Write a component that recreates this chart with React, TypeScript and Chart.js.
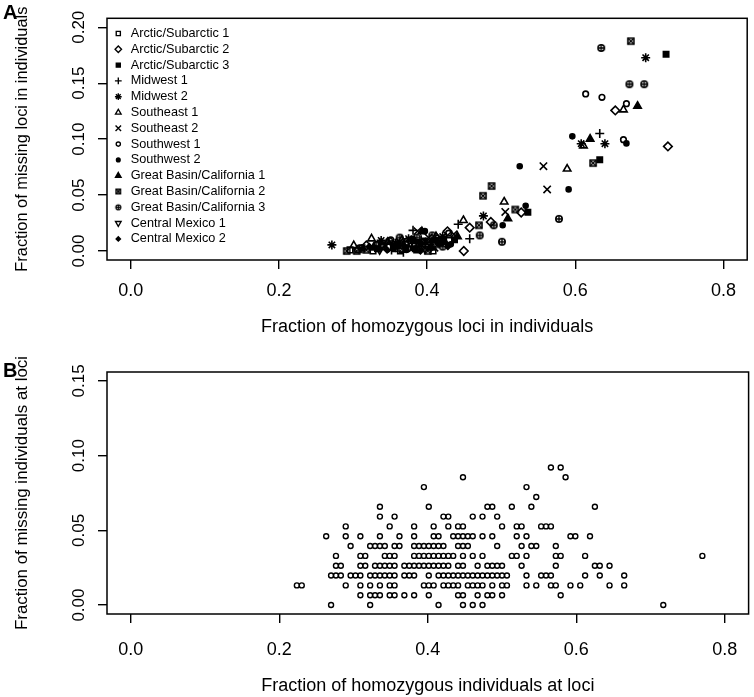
import React, { useEffect, useRef } from "react";
import { Chart, registerables } from "chart.js";
import { drawPoint } from "chart.js/helpers";

Chart.register(...registerables);

// ---------------- Axis ticks / labels ----------------
const X_TICKS = [0, 0.2, 0.4, 0.6, 0.8];
const X_TICK_LABELS = ["0.0", "0.2", "0.4", "0.6", "0.8"];
const A_Y_TICKS = [0, 0.05, 0.1, 0.15, 0.2];
const A_Y_TICK_LABELS = ["0.00", "0.05", "0.10", "0.15", "0.20"];
const B_Y_TICKS = [0, 0.05, 0.1, 0.15];
const B_Y_TICK_LABELS = ["0.00", "0.05", "0.10", "0.15"];

const A_X_TITLE = "Fraction of homozygous loci in individuals";
const A_Y_TITLE = "Fraction of missing loci in individuals";
const B_X_TITLE = "Fraction of homozygous individuals at loci";
const B_Y_TITLE = "Fraction of missing individuals at loci";

// ---------------- Panel A data: [homozygous fraction, missing fraction] ----------------
const groupNames = [
  "Arctic/Subarctic 1",
  "Arctic/Subarctic 2",
  "Arctic/Subarctic 3",
  "Midwest 1",
  "Midwest 2",
  "Southeast 1",
  "Southeast 2",
  "Southwest 1",
  "Southwest 2",
  "Great Basin/California 1",
  "Great Basin/California 2",
  "Great Basin/California 3",
  "Central Mexico 1",
  "Central Mexico 2",
];

const arctic1: [number, number][] = [
  [0.296, 0.001], [0.312, 0.003], [0.327, 0.0], [0.341, 0.004], [0.356, 0.002],
  [0.371, 0.006], [0.386, 0.001], [0.408, 0.0], [0.396, 0.009], [0.364, 0.0],
];
const arctic2: [number, number][] = [
  [0.725, 0.0935], [0.654, 0.1257], [0.527, 0.0344], [0.486, 0.026], [0.4575, 0.0209],
  [0.4275, 0.0176], [0.4495, 0.0], [0.318, 0.005], [0.348, 0.003], [0.372, 0.008],
  [0.393, 0.004], [0.414, 0.011],
];
const arctic3: [number, number][] = [
  [0.7225, 0.1758], [0.633, 0.0815], [0.536, 0.0347], [0.333, 0.002], [0.361, 0.005],
  [0.384, 0.002], [0.418, 0.007], [0.437, 0.01],
];
const midwest1: [number, number][] = [
  [0.633, 0.105], [0.442, 0.0239], [0.4575, 0.011], [0.381, 0.0185], [0.352, 0.001],
  [0.368, -0.001], [0.379, 0.004], [0.404, 0.006], [0.426, 0.012], [0.392, 0.01],
];
const midwest2: [number, number][] = [
  [0.695, 0.1728], [0.608, 0.0959], [0.64, 0.0959], [0.476, 0.0314], [0.2715, 0.0055],
  [0.338, 0.0095], [0.357, 0.007], [0.375, 0.011], [0.398, 0.008], [0.421, 0.013],
  [0.312, 0.002],
];
const southeast1: [number, number][] = [
  [0.665, 0.1263], [0.611, 0.0941], [0.589, 0.0734], [0.504, 0.044], [0.449, 0.0275],
  [0.301, 0.005], [0.325, 0.011], [0.347, 0.008], [0.366, 0.01], [0.389, 0.006],
  [0.412, 0.013],
];
const southeast2: [number, number][] = [
  [0.557, 0.0758], [0.562, 0.0551], [0.5055, 0.035], [0.387, 0.0178], [0.343, 0.005],
  [0.363, 0.008], [0.402, 0.012], [0.41, 0.003], [0.436, 0.015],
];
const southwest1: [number, number][] = [
  [0.614, 0.1404], [0.636, 0.1374], [0.669, 0.1317], [0.665, 0.0995], [0.306, 0.001],
  [0.332, 0.006], [0.351, 0.01], [0.374, 0.002], [0.398, 0.005], [0.429, 0.016],
];
const southwest2: [number, number][] = [
  [0.596, 0.1025], [0.669, 0.0962], [0.525, 0.0758], [0.591, 0.0551], [0.533, 0.0404],
  [0.502, 0.023], [0.397, 0.0178], [0.354, 0.003], [0.38, 0.011], [0.372, 0.001],
  [0.391, 0.007], [0.413, 0.009], [0.432, 0.006],
];
const greatBasin1: [number, number][] = [
  [0.684, 0.1296], [0.62, 0.1002], [0.509, 0.029], [0.328, 0.003], [0.359, 0.005],
  [0.383, 0.009], [0.405, 0.003], [0.424, 0.008], [0.441, 0.013], [0.393, 0.0175],
];
const greatBasin2: [number, number][] = [
  [0.675, 0.1876], [0.624, 0.0786], [0.487, 0.0581], [0.4755, 0.0494], [0.519, 0.0371],
  [0.47, 0.023], [0.2915, 0.0], [0.401, 0.0], [0.318, 0.001], [0.339, 0.006],
  [0.366, 0.002], [0.388, 0.003], [0.412, 0.006], [0.305, 0.0],
];
const greatBasin3: [number, number][] = [
  [0.635, 0.1815], [0.673, 0.1491], [0.693, 0.1491], [0.49, 0.023], [0.471, 0.014],
  [0.501, 0.0083], [0.578, 0.0287], [0.363, 0.012], [0.331, 0.005], [0.349, 0.009],
  [0.386, 0.012], [0.407, 0.014], [0.421, 0.004],
];
const centralMexico1: [number, number][] = [
  [0.31, 0.003], [0.336, 0.001], [0.357, 0.004], [0.378, 0.007], [0.397, 0.002], [0.417, 0.01],
];
const centralMexico2: [number, number][] = [
  [0.322, 0.004], [0.346, 0.001], [0.369, 0.005], [0.391, 0.0], [0.406, 0.009], [0.428, 0.004],
];

const groupPoints = [
  arctic1, arctic2, arctic3, midwest1, midwest2, southeast1, southeast2,
  southwest1, southwest2, greatBasin1, greatBasin2, greatBasin3, centralMexico1, centralMexico2,
];

// ---------------- Panel B data: counts out of 152 individuals ----------------
const N_INDIVIDUALS = 152;
// index = number of individuals missing at the locus; values = number of homozygous individuals
const homozygousCountsByMissing: number[][] = [
  [41, 49, 63, 68, 70, 72, 109],
  [47, 49, 50, 51, 53, 54, 56, 58, 61, 67, 68, 71, 73, 74, 76, 88],
  [34, 35, 44, 47, 49, 51, 53, 54, 60, 61, 62, 64, 65, 66, 67, 69, 70, 71, 72, 74, 76, 77, 81, 83, 86, 87, 90, 92, 98, 101],
  [41, 42, 43, 45, 46, 47, 49, 50, 51, 52, 53, 54, 56, 57, 58, 61, 63, 64, 65, 66, 67, 68, 69, 70, 71, 72, 73, 74, 75, 76, 77, 81, 84, 85, 86, 93, 96, 101],
  [42, 43, 47, 48, 50, 51, 52, 53, 54, 56, 57, 58, 59, 60, 61, 62, 63, 64, 65, 67, 68, 71, 73, 74, 75, 76, 80, 87, 95, 96, 98],
  [42, 47, 48, 52, 53, 54, 58, 59, 60, 61, 62, 63, 64, 65, 66, 68, 70, 72, 78, 79, 81, 87, 88, 93, 117],
  [45, 49, 50, 51, 52, 54, 55, 58, 59, 60, 61, 62, 63, 64, 67, 68, 69, 75, 80, 82, 83, 87],
  [40, 44, 47, 51, 55, 58, 62, 63, 66, 67, 68, 69, 70, 72, 74, 79, 81, 90, 91, 94],
  [44, 53, 58, 62, 65, 67, 68, 76, 79, 80, 84, 85, 86],
  [51, 54, 64, 65, 70, 72, 75],
  [51, 61, 73, 74, 78, 82, 95],
  [83],
  [60, 81],
  [68, 89],
  [86, 88],
];

// ---------------- Styles ----------------
const FONT = '"Liberation Sans", Arial, Helvetica, sans-serif';
const BLACK = "#000";

type MarkerDef = { style: string; radius: number; filled: boolean; rotation?: number };
const markerDefs: MarkerDef[] = [
  { style: "rect", radius: 3.9, filled: false },
  { style: "rectRot", radius: 4.3, filled: false },
  { style: "rect", radius: 3.8, filled: true },
  { style: "cross", radius: 4.5, filled: false },
  { style: "star", radius: 4.5, filled: false },
  { style: "triangle", radius: 4.3, filled: false },
  { style: "crossRot", radius: 5.2, filled: false },
  { style: "circle", radius: 2.8, filled: false },
  { style: "circle", radius: 2.5, filled: true },
  { style: "triangle", radius: 4.3, filled: true },
  { style: "boxX", radius: 3.0, filled: false },
  { style: "circlePlus", radius: 3.2, filled: false },
  { style: "triangle", radius: 4.3, filled: false, rotation: 180 },
  { style: "rectRot", radius: 2.9, filled: true },
];
const LINE_W = 1.6;
const LEGEND_SCALE = 0.75;

function makeSymbolCanvas(kind: string, r: number, lw: number): HTMLCanvasElement {
  const size = Math.ceil(2 * r + lw + 2);
  const c = document.createElement("canvas");
  c.width = size;
  c.height = size;
  const ctx = c.getContext("2d")!;
  const m = size / 2;
  ctx.strokeStyle = BLACK;
  ctx.lineWidth = lw;
  ctx.beginPath();
  if (kind === "boxX") {
    ctx.rect(m - r, m - r, 2 * r, 2 * r);
    ctx.stroke();
    ctx.beginPath();
    ctx.lineWidth = lw * 0.85;
    ctx.moveTo(m - r, m - r);
    ctx.lineTo(m + r, m + r);
    ctx.moveTo(m + r, m - r);
    ctx.lineTo(m - r, m + r);
  } else {
    ctx.arc(m, m, r, 0, Math.PI * 2);
    ctx.stroke();
    ctx.beginPath();
    ctx.lineWidth = lw * 0.85;
    ctx.moveTo(m - r, m);
    ctx.lineTo(m + r, m);
    ctx.moveTo(m, m - r);
    ctx.lineTo(m, m + r);
  }
  ctx.stroke();
  return c;
}

function resolveStyle(def: MarkerDef, scale: number): any {
  if (def.style === "boxX" || def.style === "circlePlus") {
    return makeSymbolCanvas(def.style, def.radius * scale, LINE_W * (scale < 1 ? 0.85 : 1));
  }
  return def.style;
}

// ---------------- Shared scale builders ----------------
function xScale(height: number, labelPad: number, title: string, titlePadBottom: number) {
  return {
    type: "linear",
    position: "bottom",
    min: -0.032,
    max: 0.832,
    afterBuildTicks: (s: any) => {
      s.ticks = X_TICKS.map((v) => ({ value: v }));
    },
    afterFit: (s: any) => {
      s.height = height;
      s.paddingLeft = 0;
      s.paddingRight = 0;
    },
    grid: { drawOnChartArea: false, drawTicks: true, tickLength: 9, color: BLACK, lineWidth: 1.4 },
    border: { display: false },
    ticks: {
      color: BLACK,
      font: { family: FONT, size: 18 },
      padding: labelPad,
      autoSkip: false,
      maxRotation: 0,
      minRotation: 0,
      callback: (_v: any, i: number) => X_TICK_LABELS[i],
    },
    title: {
      display: true,
      text: title,
      color: BLACK,
      font: { family: FONT, size: 18 },
      padding: { top: 0, bottom: titlePadBottom },
    },
  };
}

function yScale(min: number, max: number, ticks: number[], title: string, titleSize: number) {
  return {
    type: "linear",
    position: "left",
    min,
    max,
    afterBuildTicks: (s: any) => {
      s.ticks = ticks.map((v) => ({ value: v }));
    },
    afterFit: (s: any) => {
      s.width = 107;
      s.paddingTop = 0;
      s.paddingBottom = 0;
    },
    grid: { drawOnChartArea: false, drawTicks: true, tickLength: 9, color: BLACK, lineWidth: 1.4 },
    border: { display: false },
    ticks: { display: false },
    title: {
      display: true,
      text: title,
      color: BLACK,
      font: { family: FONT, size: titleSize },
      padding: { top: 22 - titleSize * 0.6, bottom: 0 },
    },
  };
}

function framePlugin(letter: string, letterBaseline: number, yLabels: string[]) {
  return {
    id: "rFrame" + letter,
    afterDraw(chart: any) {
      const { ctx, chartArea } = chart;
      ctx.save();
      ctx.strokeStyle = BLACK;
      ctx.lineWidth = 1.5;
      ctx.strokeRect(chartArea.left, chartArea.top, chartArea.right - chartArea.left, chartArea.bottom - chartArea.top);
      // rotated y tick labels (R style, parallel to axis)
      const ys = chart.scales.y;
      ctx.fillStyle = BLACK;
      ctx.font = `17px ${FONT}`;
      ctx.textAlign = "center";
      ctx.textBaseline = "middle";
      ys.ticks.forEach((t: any, i: number) => {
        const py = ys.getPixelForValue(t.value);
        ctx.save();
        ctx.translate(79, py);
        ctx.rotate(-Math.PI / 2);
        ctx.fillText(yLabels[i], 0, 0);
        ctx.restore();
      });
      // panel letter
      ctx.font = `bold 20px ${FONT}`;
      ctx.textAlign = "left";
      ctx.textBaseline = "alphabetic";
      ctx.fillText(letter, 3, letterBaseline);
      ctx.restore();
    },
  };
}

function legendPlugin(legendStyles: any[]) {
  return {
    id: "rLegend",
    afterDraw(chart: any) {
      const { ctx, chartArea } = chart;
      ctx.save();
      ctx.font = `12.7px ${FONT}`;
      ctx.textAlign = "left";
      ctx.textBaseline = "middle";
      groupNames.forEach((name, i) => {
        const cy = chartArea.top + 15.2 + i * 15.8;
        const def = markerDefs[i];
        ctx.strokeStyle = BLACK;
        ctx.fillStyle = def.filled ? BLACK : "rgba(0,0,0,0)";
        ctx.lineWidth = LINE_W * 0.85;
        drawPoint(
          ctx,
          {
            pointStyle: legendStyles[i],
            radius: def.radius * LEGEND_SCALE,
            rotation: def.rotation || 0,
            borderWidth: LINE_W * 0.85,
          } as any,
          chartArea.left + 11.3,
          cy
        );
        ctx.fillStyle = BLACK;
        ctx.fillText(name, chartArea.left + 23.7, cy);
      });
      ctx.restore();
    },
  };
}

export default function App() {
  const refA = useRef<HTMLCanvasElement>(null);
  const refB = useRef<HTMLCanvasElement>(null);

  useEffect(() => {
    const plotStyles = markerDefs.map((d) => resolveStyle(d, 1));
    const legendStyles = markerDefs.map((d) => resolveStyle(d, LEGEND_SCALE));

    const datasetsA = groupPoints.map((pts, i) => {
      const d = markerDefs[i];
      return {
        label: groupNames[i],
        data: pts.map(([x, y]) => ({ x, y })),
        pointStyle: plotStyles[i],
        pointRadius: d.radius,
        pointRotation: d.rotation || 0,
        pointBorderWidth: LINE_W,
        pointBorderColor: BLACK,
        pointBackgroundColor: d.filled ? BLACK : "rgba(0,0,0,0)",
        showLine: false,
      };
    });

    const pointsB: { x: number; y: number }[] = [];
    homozygousCountsByMissing.forEach((row, k) => {
      row.forEach((m) => pointsB.push({ x: m / N_INDIVIDUALS, y: k / N_INDIVIDUALS }));
    });

    const chartA = new Chart(refA.current!, {
      type: "scatter",
      data: { datasets: datasetsA as any },
      options: {
        responsive: false,
        animation: false,
        events: [],
        layout: { padding: { top: 18.3, right: 4, bottom: 0, left: 0 } },
        plugins: { legend: { display: false }, tooltip: { enabled: false } },
        scales: {
          x: xScale(88, 11, A_X_TITLE, 10.2) as any,
          y: yScale(-0.008, 0.208, A_Y_TICKS, A_Y_TITLE, 16.4) as any,
        },
      },
      plugins: [framePlugin("A", 19, A_Y_TICK_LABELS), legendPlugin(legendStyles)],
    } as any);

    const chartB = new Chart(refB.current!, {
      type: "scatter",
      data: {
        datasets: [
          {
            label: "loci",
            data: pointsB,
            pointStyle: "circle",
            pointRadius: 2.5,
            pointBorderWidth: 1.4,
            pointBorderColor: BLACK,
            pointBackgroundColor: "rgba(0,0,0,0)",
            showLine: false,
          } as any,
        ],
      },
      options: {
        responsive: false,
        animation: false,
        events: [],
        layout: { padding: { top: 24, right: 4, bottom: 0, left: 0 } },
        plugins: { legend: { display: false }, tooltip: { enabled: false } },
        scales: {
          x: xScale(83, 16.2, B_X_TITLE, 0.2) as any,
          y: yScale(-0.006, 0.156, B_Y_TICKS, B_Y_TITLE, 16.9) as any,
        },
      },
      plugins: [framePlugin("B", 29, B_Y_TICK_LABELS)],
    } as any);

    return () => {
      chartA.destroy();
      chartB.destroy();
    };
  }, []);

  return (
    <div style={{ position: "fixed", left: 0, top: 0, width: 754, height: 697, background: "#fff" }}>
      <canvas ref={refA} width={754} height={348} style={{ position: "absolute", left: 0, top: 0, width: 754, height: 348 }} />
      <canvas ref={refB} width={754} height={349} style={{ position: "absolute", left: 0, top: 348, width: 754, height: 349 }} />
    </div>
  );
}
